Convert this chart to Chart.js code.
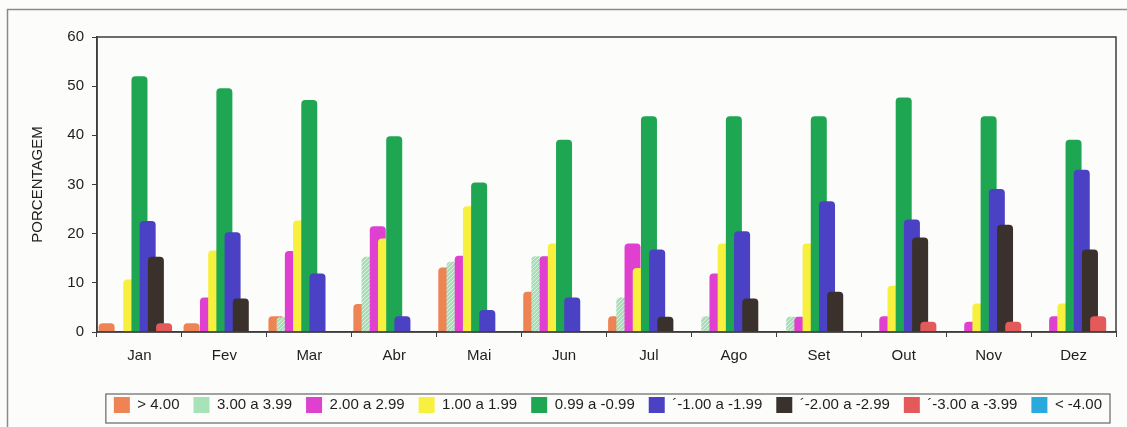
<!DOCTYPE html>
<html>
<head>
<meta charset="utf-8">
<script src="https://cdn.jsdelivr.net/npm/chart.js@4"></script>
<style>
  html, body { margin: 0; padding: 0; background: #fcfcfa; }
  #wrap { width: 1127px; height: 427px; position: relative; }
</style>
</head>
<body>
<div id="wrap"><canvas id="chart" width="1127" height="427"></canvas></div>
<script>
// months and series (percent)
const months = ['Jan', 'Fev', 'Mar', 'Abr', 'Mai', 'Jun', 'Jul', 'Ago', 'Set', 'Out', 'Nov', 'Dez'];
const classLabels = ['> 4.00', '3.00 a 3.99', '2.00 a 2.99', '1.00 a 1.99', '0.99 a -0.99',
                     '\u00b4-1.00 a -1.99', '\u00b4-2.00 a -2.99', '\u00b4-3.00 a -3.99', '< -4.00'];
const above4    = [1.8, 1.8, 3.2, 5.7, 13.1, 8.2, 3.2, 0, 0, 0, 0, 0];
const from3to4  = [0, 0, 3.0, 15.3, 14.3, 15.4, 7.0, 3.2, 3.1, 0, 0, 0];
const from2to3  = [0, 7.0, 16.5, 21.5, 15.5, 15.4, 18.0, 11.9, 3.1, 3.2, 2.1, 3.2];
const from1to2  = [10.7, 16.6, 22.7, 19.0, 25.6, 18.0, 13.0, 18.0, 18.0, 9.4, 5.8, 5.8];
const nearZero  = [52.0, 49.6, 47.2, 39.8, 30.4, 39.1, 43.9, 43.9, 43.9, 47.7, 43.9, 39.1];
const minus1to2 = [22.6, 20.3, 11.9, 3.2, 4.5, 7.0, 16.8, 20.5, 26.6, 22.9, 29.1, 33.0];
const minus2to3 = [15.3, 6.8, 0, 0, 0, 0, 3.1, 6.8, 8.2, 19.2, 21.8, 16.8];
const minus3to4 = [1.8, 0, 0, 0, 0, 0, 0, 0, 0, 2.1, 2.1, 3.2];
const below4    = [0, 0, 0, 0, 0, 0, 0, 0, 0, 0, 0, 0];
const yTicks = [0, 10, 20, 30, 40, 50, 60];

const seriesData = [above4, from3to4, from2to3, from1to2, nearZero, minus1to2, minus2to3, minus3to4, below4];

// hatched light green, like the printed fill
function hatch() {
    const c = document.createElement('canvas');
    c.width = 4; c.height = 4;
    const g = c.getContext('2d');
    g.fillStyle = '#a6dfb5';
    g.fillRect(0, 0, 4, 4);
    g.fillStyle = '#dcf3e2';
    g.fillRect(0, 0, 1, 1);
    g.fillRect(2, 2, 1, 1);
    g.fillRect(1, 3, 1, 1);
    g.fillRect(3, 1, 1, 1);
    return g.createPattern(c, 'repeat');
}

const colors = ['#ee8454', hatch(), '#e040cf', '#f7f03e', '#1fa653', '#4a41c4', '#3a302c', '#e45a5a', '#2aaadc'];
const legendColors = ['#ee8454', '#a8e2b8', '#e040cf', '#f7f03e', '#1fa653', '#4a41c4', '#3a302c', '#e45a5a', '#2aaadc'];

// draw series left to right so each bar overlaps the one before it
const drawInOrder = {
    id: 'drawInOrder',
    beforeDatasetsDraw(chart) {
        chart.data.datasets.forEach((d, i) => chart.getDatasetMeta(i).controller.draw());
        return false;
    }
};

const frames = {
    id: 'frames',
    beforeDraw(chart) {
        const ctx = chart.ctx;
        ctx.save();
        ctx.fillStyle = '#fcfcfa';
        ctx.fillRect(0, 0, chart.width, chart.height);
        ctx.strokeStyle = '#8a8a8a';
        ctx.lineWidth = 1.5;
        ctx.beginPath();
        ctx.moveTo(7.5, chart.height);
        ctx.lineTo(7.5, 9.5);
        ctx.lineTo(chart.width, 9.5);
        ctx.stroke();
        ctx.restore();
    },
    afterDraw(chart) {
        const ctx = chart.ctx;
        const a = chart.chartArea;
        ctx.save();
        ctx.strokeStyle = '#3c3c3c';
        ctx.lineWidth = 1.5;
        ctx.strokeRect(a.left, a.top, a.right - a.left, a.bottom - a.top);
        // legend box
        const hb = chart.legend.legendHitBoxes;
        if (hb && hb.length) {
            const first = hb[0], last = hb[hb.length - 1];
            const x0 = first.left - 8, x1 = last.left + last.width + 8;
            const y0 = first.top - 3, y1 = first.top + first.height + 10;
            ctx.strokeStyle = '#666';
            ctx.lineWidth = 1.2;
            ctx.strokeRect(x0, y0, x1 - x0, y1 - y0);
        }
        ctx.restore();
    }
};

const ctx = document.getElementById('chart').getContext('2d');
new Chart(ctx, {
    type: 'bar',
    data: {
        labels: months,
        datasets: seriesData.map((d, i) => ({
            label: classLabels[i],
            data: d,
            backgroundColor: colors[i],
            borderWidth: 0,
            borderRadius: 4,
            categoryPercentage: 0.87,
            barPercentage: 1.95
        }))
    },
    options: {
        responsive: false,
        animation: false,
        layout: { padding: { left: 20, top: 37, right: 11, bottom: 4 } },
        plugins: {
            tooltip: { enabled: false },
            legend: {
                position: 'bottom',
                align: 'end',
                labels: {
                    font: { family: 'Liberation Sans, Arial, sans-serif', size: 15 },
                    color: '#1e1e1e',
                    boxWidth: 16,
                    boxHeight: 16,
                    padding: 14,
                    generateLabels: chart => classLabels.map((t, i) => ({
                        text: t,
                        fillStyle: legendColors[i],
                        strokeStyle: legendColors[i],
                        lineWidth: 0,
                        datasetIndex: i,
                        fontColor: '#1e1e1e'
                    }))
                }
            }
        },
        scales: {
            x: {
                grid: { drawOnChartArea: false, tickLength: 5, color: '#3c3c3c', offset: true },
                border: { color: '#3c3c3c', width: 1.5 },
                ticks: {
                    font: { family: 'Liberation Sans, Arial, sans-serif', size: 15 },
                    color: '#1e1e1e',
                    padding: 10,
                    maxRotation: 0
                },
                afterFit: s => { s.height = 51; }
            },
            y: {
                min: 0,
                max: 60,
                afterBuildTicks: s => { s.ticks = yTicks.map(v => ({ value: v })); },
                grid: { drawOnChartArea: false, tickLength: 5, color: '#3c3c3c' },
                border: { color: '#3c3c3c', width: 1.5 },
                ticks: {
                    font: { family: 'Liberation Sans, Arial, sans-serif', size: 15 },
                    color: '#1e1e1e',
                    padding: 8
                },
                title: {
                    display: true,
                    text: 'PORCENTAGEM',
                    font: { family: 'Liberation Sans, Arial, sans-serif', size: 15 },
                    color: '#1e1e1e',
                    padding: { top: 9, bottom: 0 }
                },
                afterFit: s => { s.width = 77; }
            }
        }
    },
    plugins: [drawInOrder, frames]
});
</script>
</body>
</html>
